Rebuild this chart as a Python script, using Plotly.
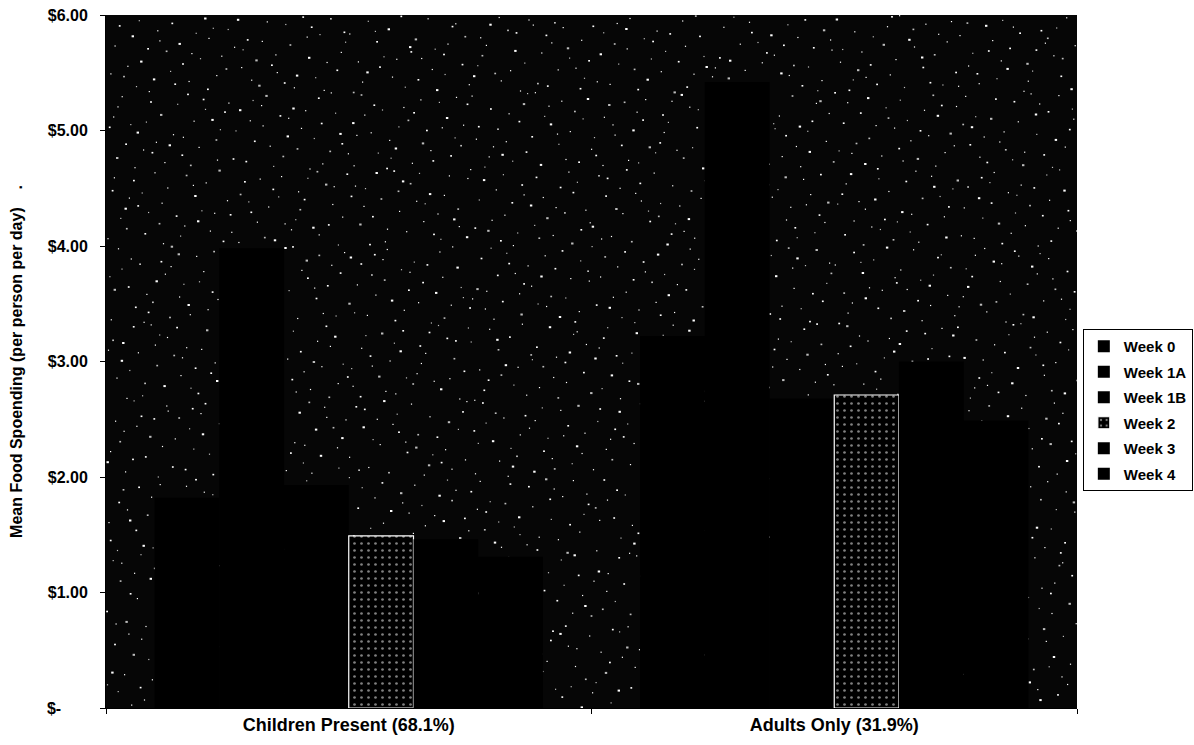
import base64
import plotly.graph_objects as go

# Household type on the category axis
categories = ["Children Present (68.1%)", "Adults Only (31.9%)"]

# Mean food spending per person per day, one list per survey week
week_0 = [1.82, 3.22]
week_1a = [3.98, 5.42]
week_1b = [1.93, 2.68]
week_2 = [1.49, 2.71]
week_3 = [1.46, 3.00]
week_4 = [1.31, 2.49]

series_names = ["Week 0", "Week 1A", "Week 1B", "Week 2", "Week 3", "Week 4"]
series_values = [week_0, week_1a, week_1b, week_2, week_3, week_4]

y_tick_values = [0, 1, 2, 3, 4, 5, 6]
y_tick_labels = ["$-", "$1.00", "$2.00", "$3.00", "$4.00", "$5.00", "$6.00"]

FONT = "Arial, 'Liberation Sans', sans-serif"
PLOT_W, PLOT_H = 971, 693


def halton(index, base):
    f, r = 1.0, 0.0
    while index > 0:
        f /= base
        r += f * (index % base)
        index //= base
    return r


def speckle_texture(width, height, count):
    """Near-black plot-area fill sprinkled with light specks (Halton point layout)."""
    parts = [
        f'<svg xmlns="http://www.w3.org/2000/svg" width="{width}" height="{height}" '
        f'viewBox="0 0 {width} {height}" preserveAspectRatio="none">',
        f'<rect width="{width}" height="{height}" fill="#060606"/>',
    ]
    for i in range(1, count + 1):
        x = halton(i, 2) * width
        y = halton(i, 3) * height
        k = halton(i, 5)
        if k > 0.85:
            w, h = 2.4, 2.0
        elif k > 0.55:
            w, h = 1.8, 1.6
        else:
            w, h = 1.2, 1.2
        shade = "#ffffff" if halton(i, 7) > 0.3 else "#bdbdbd"
        parts.append(f'<rect x="{x:.1f}" y="{y:.1f}" width="{w}" height="{h}" fill="{shade}"/>')
    parts.append("</svg>")
    svg = "".join(parts)
    return "data:image/svg+xml;base64," + base64.b64encode(svg.encode()).decode()


fig = go.Figure()

for name, values in zip(series_names, series_values):
    if name == "Week 2":
        marker = dict(
            color="black",
            pattern=dict(shape=".", fgcolor="white", bgcolor="black", size=7, solidity=0.12),
            line=dict(color="white", width=1.2),
        )
    else:
        marker = dict(color="black", line=dict(color="black", width=0))
    fig.add_trace(
        go.Bar(
            name=name,
            x=categories,
            y=values,
            marker=marker,
            legendgroup=name,
            hoverinfo="x+y+name",
        )
    )

fig.add_layout_image(
    dict(
        source=speckle_texture(PLOT_W, PLOT_H, 2300),
        xref="paper", yref="paper",
        x=0, y=1, sizex=1, sizey=1,
        xanchor="left", yanchor="top",
        sizing="stretch",
        layer="below",
    )
)

fig.update_layout(
    width=1194,
    height=745,
    margin=dict(l=106, r=117, t=15, b=37, autoexpand=False),
    paper_bgcolor="white",
    plot_bgcolor="rgba(0,0,0,0)",
    barmode="group",
    bargap=0.2,
    bargroupgap=0,
    font=dict(family=FONT, color="black", size=15, weight="bold"),
    showlegend=True,
    legend=dict(
        x=1.006, xanchor="left",
        y=0.43, yanchor="middle",
        bordercolor="black", borderwidth=1,
        bgcolor="white",
        font=dict(family=FONT, size=15, color="black", weight="bold"),
        traceorder="grouped",
        tracegroupgap=3,
        itemwidth=30,
    ),
)

fig.update_xaxes(
    showgrid=False,
    showline=True, linecolor="black", linewidth=1,
    ticks="outside", tickson="boundaries", ticklen=5, tickcolor="black",
    tickfont=dict(family=FONT, size=18, color="black", weight="bold"),
)

fig.update_yaxes(
    range=[0, 6],
    showgrid=False,
    zeroline=False,
    showline=True, linecolor="black", linewidth=1,
    ticks="outside", ticklen=5, tickcolor="black",
    ticklabelstandoff=9,
    tickmode="array",
    tickvals=y_tick_values,
    ticktext=[lbl if lbl != "$-" else lbl + "\u00a0" * 6 for lbl in y_tick_labels],
    tickfont=dict(family=FONT, size=16, color="black", weight="bold"),
    title=dict(
        text="Mean Food Spoending (per person per day)\u00a0\u00a0\u00a0\u00a0.",
        font=dict(family=FONT, size=16, color="black", weight="bold"),
        standoff=20,
    ),
)

fig.write_html("out.html")
